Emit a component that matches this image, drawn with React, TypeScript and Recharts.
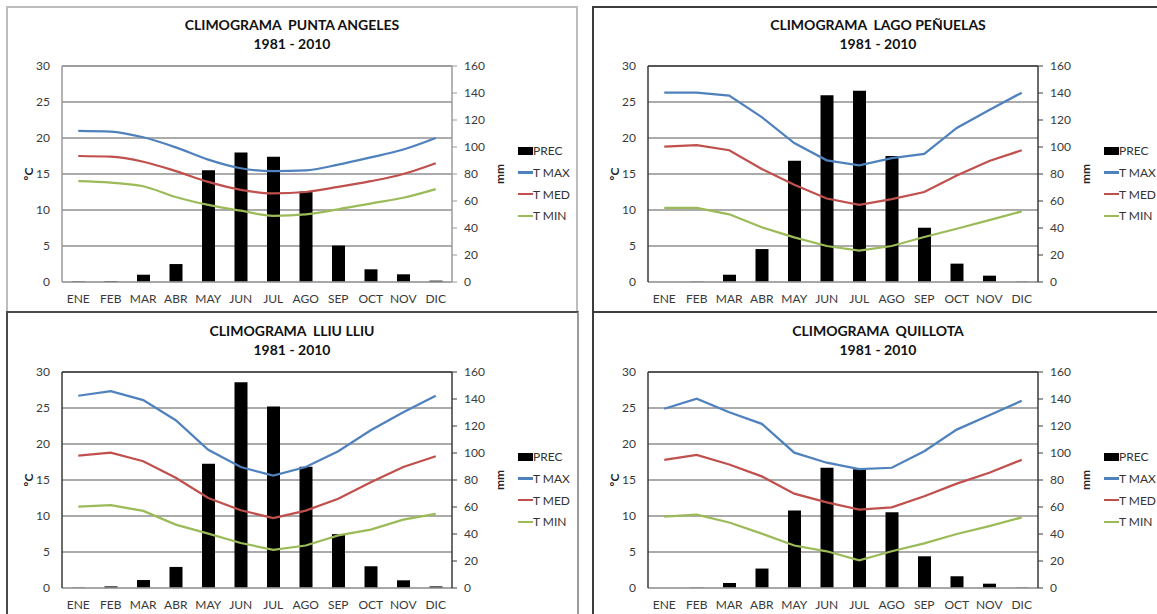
import React from "react";
import {
  ComposedChart,
  Bar,
  Line,
  XAxis,
  YAxis,
  CartesianGrid,
  ReferenceLine,
} from "recharts";

const MESES = ["ENE", "FEB", "MAR", "ABR", "MAY", "JUN", "JUL", "AGO", "SEP", "OCT", "NOV", "DIC"];
const TEMP_TICKS = [0, 5, 10, 15, 20, 25, 30];
const PREC_TICKS = [0, 20, 40, 60, 80, 100, 120, 140, 160];

// Punta Angeles
const PA_PREC = [0.5, 0.7, 5.4, 13.3, 82.7, 96, 92.8, 67, 27, 9.4, 5.7, 1.0];
const PA_TMAX = [21.0, 20.9, 20.1, 18.7, 17.0, 15.8, 15.4, 15.5, 16.3, 17.3, 18.4, 20.0];
const PA_TMED = [17.5, 17.4, 16.7, 15.4, 13.9, 12.8, 12.3, 12.5, 13.2, 14.0, 15.0, 16.5];
const PA_TMIN = [14.0, 13.8, 13.3, 11.8, 10.7, 9.9, 9.2, 9.4, 10.1, 10.9, 11.7, 12.9];

// Lago Peñuelas
const LP_PREC = [0, 0.3, 5.4, 24.4, 89.9, 138.3, 141.7, 93.3, 40.2, 13.6, 4.7, 0.3];
const LP_TMAX = [26.3, 26.3, 25.9, 22.9, 19.3, 16.9, 16.2, 17.2, 17.8, 21.4, 23.9, 26.3];
const LP_TMED = [18.8, 19.0, 18.3, 15.7, 13.5, 11.6, 10.7, 11.5, 12.5, 14.8, 16.8, 18.3];
const LP_TMIN = [10.3, 10.3, 9.4, 7.6, 6.2, 5.0, 4.35, 5.0, 6.25, 7.4, 8.6, 9.8];

// Lliu Lliu
const LL_PREC = [0.3, 1.2, 5.9, 15.6, 92, 152.5, 134.4, 89.8, 39.9, 16.1, 5.7, 1.2];
const LL_TMAX = [26.7, 27.35, 26.1, 23.3, 19.2, 16.8, 15.6, 16.8, 19.0, 21.9, 24.4, 26.7];
const LL_TMED = [18.4, 18.8, 17.6, 15.3, 12.5, 10.8, 9.7, 10.75, 12.4, 14.7, 16.8, 18.3];
const LL_TMIN = [11.3, 11.5, 10.7, 8.8, 7.55, 6.25, 5.3, 5.9, 7.3, 8.1, 9.5, 10.3];

// Quillota
const QU_PREC = [0, 0.3, 3.7, 14.4, 57.4, 89.1, 87.9, 56.2, 23.5, 8.7, 3.2, 0.3];
const QU_TMAX = [24.9, 26.3, 24.4, 22.8, 18.8, 17.4, 16.5, 16.7, 19.0, 22.0, 24.0, 26.0];
const QU_TMED = [17.8, 18.5, 17.15, 15.5, 13.1, 11.9, 10.9, 11.2, 12.75, 14.5, 16.0, 17.8];
const QU_TMIN = [9.9, 10.2, 9.1, 7.55, 5.9, 5.1, 3.85, 5.1, 6.2, 7.5, 8.6, 9.8];

const FONT = "Lato, 'Liberation Sans', sans-serif";
const C_MAX = "#4f81bd";
const C_MED = "#c0504d";
const C_MIN = "#9bbb59";

function buildRows(prec: number[], tmax: number[], tmed: number[], tmin: number[]) {
  return MESES.map((mes, i) => ({ mes, prec: prec[i], tmax: tmax[i], tmed: tmed[i], tmin: tmin[i] }));
}

function AxisTitle(props: any) {
  const { viewBox, value, dx } = props;
  if (!viewBox) return null;
  const cx = viewBox.x + dx;
  const cy = viewBox.y + viewBox.height / 2;
  return (
    <text
      x={cx}
      y={cy}
      transform={`rotate(-90 ${cx} ${cy})`}
      textAnchor="middle"
      dominantBaseline="central"
      fontSize={12}
      fontWeight="bold"
      fill="#222"
      fontFamily={FONT}
    >
      {value}
    </text>
  );
}

function Legenda({ top }: { top: number }) {
  const items = [
    { label: "PREC", color: "#000", box: true },
    { label: "T MAX", color: C_MAX },
    { label: "T MED", color: C_MED },
    { label: "T MIN", color: C_MIN },
  ];
  return (
    <div style={{ position: "absolute", left: 511, top, fontFamily: FONT, fontSize: 12, color: "#333" }}>
      {items.map((it) => (
        <div key={it.label} style={{ display: "flex", alignItems: "center", height: 21.7 }}>
          <span
            style={{
              display: "inline-block",
              width: 15,
              height: it.box ? 8 : 2.5,
              background: it.color,
            }}
          />
          <span style={{ whiteSpace: "pre" }}>{it.label}</span>
        </div>
      ))}
    </div>
  );
}

interface PanelProps {
  x: number;
  y: number;
  nombre: string;
  rows: any[];
  plotTop: number;
  smooth?: boolean;
  frame: string;
}

function Climograma({ x, y, nombre, rows, plotTop, smooth, frame }: PanelProps) {
  const H = 315;
  const tick = { fontSize: 12, fill: "#3a3a3a", fontFamily: FONT };
  const curve = smooth ? "monotone" : "linear";
  return (
    <div style={{ position: "absolute", left: x, top: y, width: 570, height: H }}>
      <div
        style={{
          position: "absolute",
          left: 0,
          top: plotTop - 50,
          width: 570,
          textAlign: "center",
          fontFamily: FONT,
          fontWeight: "bold",
          fontSize: 14,
          lineHeight: "18.5px",
          color: "#111",
          whiteSpace: "pre",
        }}
      >
        <div>{`CLIMOGRAMA  ${nombre}`}</div>
        <div>1981 - 2010</div>
      </div>
      <ComposedChart
        width={570}
        height={H}
        data={rows}
        margin={{ top: plotTop, right: 75, bottom: 5, left: 15 }}
        barSize={13}
      >
        <CartesianGrid yAxisId="t" vertical={false} stroke="#8f8f8f" strokeWidth={1.3} />
        <XAxis
          dataKey="mes"
          height={H - plotTop - 216 - 5}
          tickLine={false}
          tickSize={0}
          tickMargin={12}
          tick={tick}
          axisLine={{ stroke: "#a6a6a6", strokeWidth: 1.5 }}
        />
        <YAxis
          yAxisId="t"
          width={40}
          domain={[0, 30]}
          ticks={TEMP_TICKS}
          tickLine={false}
          tickSize={0}
          tickMargin={12}
          tick={tick}
          axisLine={{ stroke: frame, strokeWidth: 1.5 }}
          label={<AxisTitle value="ºC" dx={6} />}
        />
        <YAxis
          yAxisId="mm"
          orientation="right"
          width={50}
          domain={[0, 160]}
          ticks={PREC_TICKS}
          tickSize={5}
          tickMargin={7}
          tickLine={{ stroke: frame }}
          tick={tick}
          axisLine={{ stroke: frame, strokeWidth: 1.5 }}
          label={<AxisTitle value="mm" dx={47} />}
        />
        <ReferenceLine yAxisId="t" y={30} stroke={frame} strokeWidth={1.5} />
        <Bar yAxisId="mm" dataKey="prec" fill="#000" isAnimationActive={false} />
        <Line yAxisId="t" type={curve} dataKey="tmax" stroke={C_MAX} strokeWidth={2.25} dot={false} isAnimationActive={false} />
        <Line yAxisId="t" type={curve} dataKey="tmed" stroke={C_MED} strokeWidth={2.25} dot={false} isAnimationActive={false} />
        <Line yAxisId="t" type={curve} dataKey="tmin" stroke={C_MIN} strokeWidth={2.25} dot={false} isAnimationActive={false} />
      </ComposedChart>
      <Legenda top={plotTop + 74} />
    </div>
  );
}

const box = (left: number, top: number, width: number, height: number, color: string): React.CSSProperties => ({
  position: "absolute",
  left,
  top,
  width,
  height,
  border: `2px solid ${color}`,
  boxSizing: "border-box",
});

export default function App() {
  return (
    <div style={{ position: "absolute", left: 0, top: 0, width: 1157, height: 614, overflow: "hidden", background: "#fff" }}>
      <div style={box(6, 6, 572, 307, "#bdbdbd")} />
      <div style={box(592, 6, 600, 307, "#3c3c3c")} />
      <div style={{ ...box(6, 311, 573, 330, "#4a4a4a"), borderRightColor: "#9a9a9a" }} />
      <div style={box(592, 311, 600, 330, "#3c3c3c")} />

      <Climograma x={7} y={7} nombre="PUNTA ANGELES" rows={buildRows(PA_PREC, PA_TMAX, PA_TMED, PA_TMIN)} plotTop={59} smooth frame="#9a9a9a" />
      <Climograma x={593} y={7} nombre="LAGO PEÑUELAS" rows={buildRows(LP_PREC, LP_TMAX, LP_TMED, LP_TMIN)} plotTop={59} frame="#3a3a3a" />
      <Climograma x={7} y={312} nombre="LLIU LLIU" rows={buildRows(LL_PREC, LL_TMAX, LL_TMED, LL_TMIN)} plotTop={60} frame="#3a3a3a" />
      <Climograma x={593} y={312} nombre="QUILLOTA" rows={buildRows(QU_PREC, QU_TMAX, QU_TMED, QU_TMIN)} plotTop={60} frame="#3a3a3a" />
    </div>
  );
}
